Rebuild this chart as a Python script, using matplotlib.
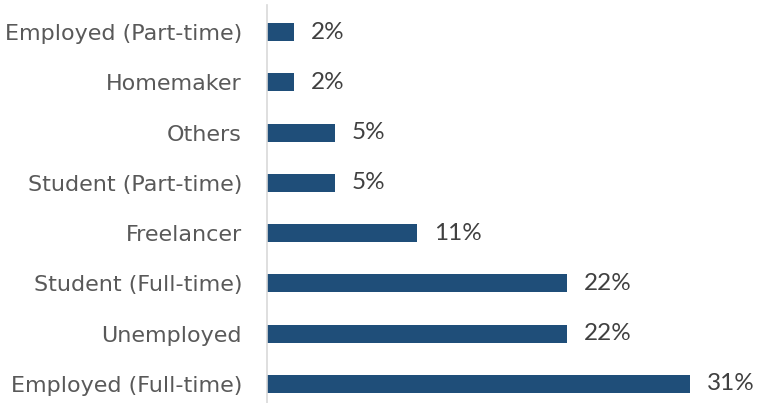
import matplotlib.pyplot as plt

# data, top to bottom as shown in the chart
categories = ["Employed (Part-time)", "Homemaker", "Others", "Student (Part-time)",
              "Freelancer", "Student (Full-time)", "Unemployed", "Employed (Full-time)"]
values = [2, 2, 5, 5, 11, 22, 22, 31]

bar_color = "#1F4E79"

fig = plt.figure(figsize=(7.67, 4.03), dpi=100)
ax = fig.add_axes([267 / 767, 0, (745 - 267) / 767, 398 / 403])

# reverse so the first category sits at the top
cats = categories[::-1]
vals = values[::-1]
ypos = list(range(len(cats)))

bars = ax.barh(ypos, vals, height=0.36, color=bar_color)
for y, v in zip(ypos, vals):
    ax.annotate(f"{v}%", xy=(v, y), xytext=(12, 0), textcoords="offset points",
                va="center", ha="left", fontsize=17.5, color="#404040", family="Lato")

ax.set_xlim(0, 35)
ax.set_ylim(-0.38, 7.54)
ax.set_yticks(ypos)
ax.set_yticklabels(cats, fontsize=16, color="#595959", family="DejaVu Sans")
ax.tick_params(axis="y", length=0, pad=18)
ax.set_xticks([])

for side in ["top", "right", "bottom"]:
    ax.spines[side].set_visible(False)
ax.spines["left"].set_color("#D9D9D9")
ax.spines["left"].set_linewidth(1.2)

fig.savefig("out.png", dpi=100)
